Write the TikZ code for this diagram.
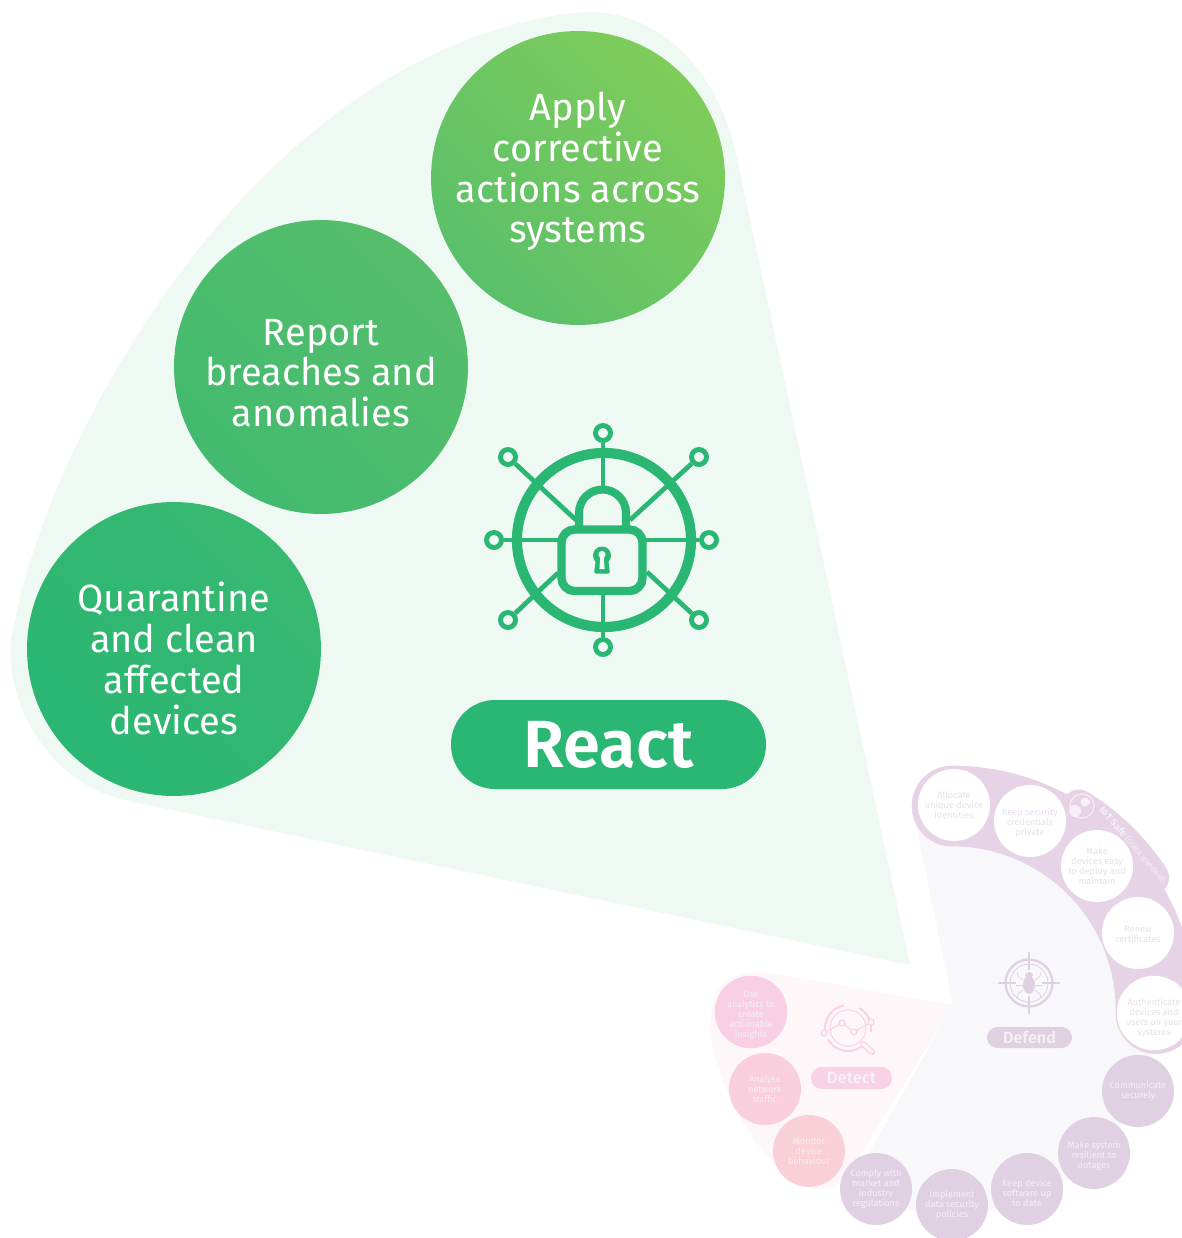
\documentclass[tikz,border=0pt]{standalone}
\usepackage{fontspec}
\setmainfont{Fira Sans}
\newfontfamily\headfont{Fira Sans SemiBold}
\definecolor{fanGreen}{HTML}{EFF9F4}
\definecolor{iconGreen}{HTML}{2AB673}
\definecolor{defendBack}{HTML}{F8F8FB}
\definecolor{detectBack}{HTML}{FEF7FA}
\definecolor{bandPurple}{HTML}{E6D3E5}
\definecolor{discPurple}{HTML}{DFD1E1}
\definecolor{textPurple}{HTML}{E9DEEC}
\definecolor{textPale}{HTML}{F5EFF6}
\definecolor{pillPink}{HTML}{F9D2E6}
\definecolor{applyTop}{HTML}{7FCC5A}
\definecolor{applyLow}{HTML}{5AC06A}
\definecolor{reportTop}{HTML}{56BE6B}
\definecolor{reportLow}{HTML}{42BA6F}
\definecolor{cleanTop}{HTML}{38B970}
\definecolor{cleanLow}{HTML}{2AB673}
\definecolor{pinkTop}{HTML}{F9CFE3}
\definecolor{pinkMid}{HTML}{F9CFDD}
\definecolor{pinkLow}{HTML}{F9CFD8}
\newcommand{\lift}[1]{\rule{0pt}{#1}}
\tikzset{
	bigdisc/.style={circle,minimum size=5.88cm,inner sep=0pt},
	bigtext/.style={inner sep=0pt,align=center,text=white,font=\fontsize{21.6}{23.2}\selectfont},
	smalldisc/.style={circle,minimum size=1.44cm,inner sep=0pt,align=center,font=\fontsize{5.2}{5.7}\selectfont},
	whitedisc/.style={smalldisc,fill=white,text=textPurple},
	purpledisc/.style={smalldisc,fill=discPurple,text=textPale},
	pinkdisc/.style={smalldisc,fill=#1,text=textPale},
	hubdot/.style={circle,draw=iconGreen,line width=2.8pt,fill=fanGreen,minimum size=0.3cm,inner sep=0pt},
	spoke/.style={iconGreen,line width=2.7pt},
	pill/.style={rounded corners=#1,inner sep=0pt,align=center,text=textPale},
	chartdot/.style={circle,draw=pillPink,line width=0.7pt,fill=detectBack,minimum size=0.12cm,inner sep=0pt},
	bugline/.style={discPurple,line width=0.4pt},
	sightline/.style={discPurple,line width=0.7pt},
}
\begin{document}
\begin{tikzpicture}[x=0.02cm,y=0.02cm]
	\clip (0,0) rectangle (1182,-1238);
	\fill[white] (0,0) rectangle (1182,-1238);

	\fill[fanGreen] (910,-965) -- (735,-150) .. controls (715,-65) and (655,-10) .. (585,-12)
		.. controls (430,-25) and (290,-130) .. (190,-260)
		.. controls (100,-380) and (35,-510) .. (11,-640)
		.. controls (5,-710) and (55,-785) .. (125,-800) -- cycle;

	\fill[defendBack] (953,-1005) -- (916,-825) -- (952,-805) arc (90:-120:205) -- cycle;
	\fill[detectBack] (953,-1005) -- (770,-973) .. controls (730,-968) and (708,-985) .. (710,-1035)
		.. controls (725,-1105) and (760,-1165) .. (812,-1188) .. controls (830,-1190) and (840,-1185) .. (850,-1172) -- cycle;

	\draw[bandPurple,line width=45.9pt,line cap=round] (952,-806) arc (90:-1:204);
	\draw[bandPurple,line width=19.3pt,line cap=round] (952,-1010) ++(58:240) arc (58:33.5:240);

	\node[bigdisc,top color=applyTop,bottom color=applyLow,shading angle=-45] (apply) at (578,-178) {};
	\node[bigdisc,top color=reportTop,bottom color=reportLow,shading angle=-45] (report) at (321,-367) {};
	\node[bigdisc,top color=cleanTop,bottom color=cleanLow,shading angle=-45] (quarantine) at (174,-649) {};
	\node[bigtext] (applyText) at (578,-171.5) {Apply\\corrective\\actions across\\systems};
	\node[bigtext] (reportText) at (321,-373) {Report\\breaches and\\anomalies};
	\node[bigtext] (quarantineText) at (174,-658.5) {Quarantine\\and clean\\affected\\devices};

	\node[hubdot] (hubN) at (603,-433) {};
	\node[hubdot] (hubS) at (603,-647) {};
	\node[hubdot] (hubW) at (494,-540) {};
	\node[hubdot] (hubE) at (709,-540) {};
	\node[hubdot] (hubNW) at (508,-457) {};
	\node[hubdot] (hubNE) at (699,-457) {};
	\node[hubdot] (hubSW) at (508,-620) {};
	\node[hubdot] (hubSE) at (699,-620) {};
	\coordinate (lockN) at (603,-486);
	\coordinate (lockS) at (603,-592);
	\coordinate (lockW) at (560,-540);
	\coordinate (lockE) at (645,-540);
	\coordinate (lockNW) at (576,-520);
	\coordinate (lockNE) at (630,-520);
	\coordinate (lockSW) at (558,-573);
	\coordinate (lockSE) at (647,-572);
	\draw[spoke] (hubN) -- (lockN);
	\draw[spoke] (hubS) -- (lockS);
	\draw[spoke] (hubW) -- (lockW);
	\draw[spoke] (hubE) -- (lockE);
	\draw[spoke] (hubNW) -- (lockNW);
	\draw[spoke] (hubNE) -- (lockNE);
	\draw[spoke] (hubSW) -- (lockSW);
	\draw[spoke] (hubSE) -- (lockSE);
	\draw[iconGreen,line width=5.8pt] (604,-540) circle (87);
	\draw[iconGreen,line width=4.6pt] (579,-529) -- (579,-513) arc (180:0:23.5) -- (626,-529);
	\draw[iconGreen,line width=4.8pt,rounded corners=0.26cm,fill=fanGreen] (561.5,-529.5) rectangle (642.5,-591);
	\fill[iconGreen] (602,-555.5) circle (9);
	\fill[iconGreen,rounded corners=0.03cm] (596,-558) -- (594,-573.5) -- (610,-573.5) -- (608,-558) -- cycle;
	\fill[fanGreen] (602,-554.5) circle (3.6);
	\fill[fanGreen] (600.3,-556) -- (599.4,-569) -- (604.6,-569) -- (603.7,-556) -- cycle;

	\node[pill=0.88cm,fill=iconGreen,minimum width=6.3cm,minimum height=1.78cm,text=white,font=\headfont\fontsize{38}{38}\selectfont] (react) at (608.5,-744.5) {React};

	\node[whitedisc] (allocate) at (954,-805) {Allocate\\unique device\\identities};
	\node[whitedisc] (credentials) at (1030,-821) {\lift{6.1pt}Keep security\\credentials\\private};
	\node[whitedisc] (deploy) at (1097,-866) {Make\\devices easy\\to deploy and\\maintain};
	\node[whitedisc] (renew) at (1138,-933) {\lift{5.4pt}Renew\\certificates};
	\node[whitedisc] (authenticate) at (1154,-1013) {\lift{9.5pt}Authenticate\\devices and\\users on your\\systems};
	\node[purpledisc] (communicate) at (1138,-1091) {Communicate\\securely};
	\node[purpledisc] (resilient) at (1094,-1153) {\lift{7.2pt}Make system\\resilient to\\outages};
	\node[purpledisc] (software) at (1027,-1189) {\lift{8.3pt}Keep device\\software up\\to date};
	\node[purpledisc] (policies) at (952,-1205) {Implement\\data security\\policies};
	\node[purpledisc] (comply) at (876,-1189) {Comply with\\market and\\industry\\regulations};
	\node[pinkdisc=pinkLow] (monitor) at (809,-1151) {Monitor\\device\\behaviour};
	\node[pinkdisc=pinkMid] (analyse) at (765,-1089) {Analyse\\network\\traffic};
	\node[pinkdisc=pinkTop] (insights) at (751,-1012) {\lift{7.2pt}Use\\analytics to\\create\\actionable\\insights};

	\node[pill=0.21cm,fill=discPurple,minimum width=1.7cm,minimum height=0.42cm,font=\headfont\fontsize{9.2}{9.5}\selectfont] (defend) at (1029.5,-1037.5) {Defend};
	\node[pill=0.21cm,fill=pillPink,minimum width=1.62cm,minimum height=0.44cm,font=\headfont\fontsize{9.4}{9.5}\selectfont] (detect) at (851.5,-1078) {Detect};
	\node[rotate=-49,text=textPale,inner sep=0pt,font=\fontsize{5.6}{5.6}\selectfont] (iotsafe) at (1133,-845) {\textbf{IoT Safe} {\fontsize{4.4}{4.4}\selectfont (GSMA standard)}};

	\draw[discPurple,line width=1.3pt] (1029,-983) circle (23.5);
	\draw[discPurple,line width=0.5pt] (1029,-983) circle (19);
	\draw[sightline] (1029,-952) -- (1029,-970);
	\draw[sightline] (1029,-1014) -- (1029,-996);
	\draw[sightline] (998,-983) -- (1016,-983);
	\draw[sightline] (1060,-983) -- (1042,-983);
	\fill[discPurple] (1029,-985) ellipse (6 and 9);
	\fill[discPurple] (1029,-975) ellipse (4 and 3);
	\draw[bugline] (1023,-980) -- (1018,-976) -- (1017,-972);
	\draw[bugline] (1035,-980) -- (1040,-976) -- (1041,-972);
	\draw[bugline] (1023,-985) -- (1016,-985);
	\draw[bugline] (1035,-985) -- (1042,-985);
	\draw[bugline] (1023,-990) -- (1018,-994) -- (1017,-998);
	\draw[bugline] (1035,-990) -- (1040,-994) -- (1041,-998);

	\draw[pillPink,line width=1.2pt] (848,-1028) ++(100:23) arc (100:190:23);
	\draw[pillPink,line width=1.2pt] (848,-1028) ++(210:23) arc (210:310:23);
	\draw[pillPink,line width=1.2pt] (848,-1028) ++(-10:23) arc (-10:60:23);
	\draw[pillPink,line width=0.6pt] (848,-1028) circle (18);
	\node[chartdot] (pointA) at (824,-1033) {};
	\node[chartdot] (pointB) at (842,-1023) {};
	\node[chartdot] (pointC) at (854,-1032) {};
	\node[chartdot] (pointD) at (871,-1022) {};
	\draw[pillPink,line width=0.7pt] (pointA) -- (pointB);
	\draw[pillPink,line width=0.7pt] (pointB) -- (pointC);
	\draw[pillPink,line width=0.7pt] (pointC) -- (pointD);
	\draw[pillPink,line width=3.4pt,line cap=round] (863,-1044) -- (872,-1052);
	\draw[detectBack,line width=1.9pt,line cap=round] (863,-1044) -- (872,-1052);

	\draw[textPale,line width=0.7pt] (1082,-806) circle (12);
	\fill[textPale] (1075,-811) circle (6);
	\fill[textPale] (1085,-802) circle (4.5);
	\fill[textPale] (1081,-804) rectangle (1090,-800);
\end{tikzpicture}
\end{document}
